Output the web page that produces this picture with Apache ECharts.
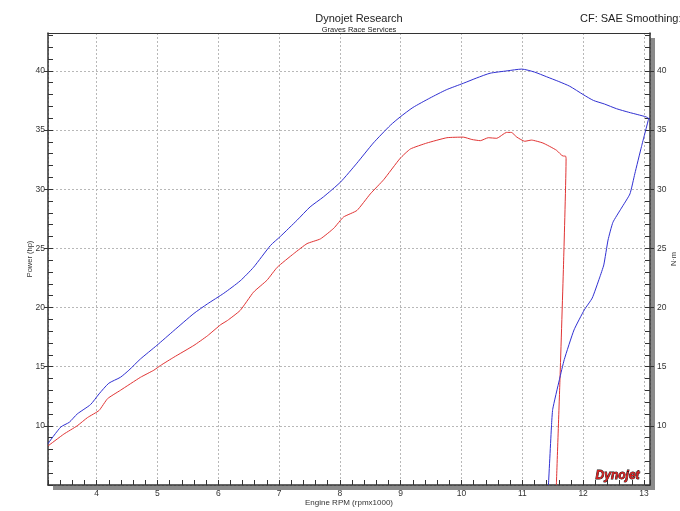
<!DOCTYPE html>
<html>
<head>
<meta charset="utf-8">
<script src="https://cdn.jsdelivr.net/npm/echarts@6/dist/echarts.min.js"></script>
<style>html,body{margin:0;padding:0;background:#fff}#c{width:680px;height:511px}</style>
</head>
<body>
<div id="c"></div>
<script>
// Blue power curve (rpm x1000, hp)
const blueRpm = [3.20,3.41,3.55,3.68,3.90,4.04,4.20,4.39,4.53,4.72,4.99,5.27,5.60,5.82,6.09,6.36,6.58,6.86,7.02,7.30,7.51,7.73,8.01,8.28,8.55,8.83,8.99,9.20,9.48,9.75,10.03,10.25,10.47,10.75,10.99,11.20,11.40,11.60,11.78,12.00,12.17,12.35,12.55,12.75,12.90,13.04,13.10];
const blueHp  = [8.5,9.9,10.3,11.0,11.8,12.7,13.6,14.1,14.7,15.65,16.8,18.05,19.5,20.3,21.2,22.25,23.4,25.25,26.0,27.4,28.5,29.35,30.6,32.2,33.9,35.4,36.1,36.9,37.7,38.4,38.95,39.4,39.8,40.0,40.15,39.9,39.5,39.1,38.7,38.0,37.5,37.2,36.8,36.5,36.3,36.1,35.9];
// Red power curve (ends with the drop-off)
const redRpm = [3.20,3.46,3.68,3.85,4.04,4.18,4.39,4.72,4.94,5.05,5.27,5.60,5.82,6.04,6.15,6.36,6.58,6.80,6.97,7.24,7.46,7.68,7.90,8.06,8.28,8.50,8.72,8.99,9.16,9.43,9.76,10.03,10.17,10.31,10.44,10.58,10.74,10.82,10.91,11.04,11.15,11.34,11.56,11.67,11.71,11.72,11.68,11.62,11.56];
const redHp  = [8.3,9.3,10.0,10.7,11.3,12.3,13.0,14.1,14.7,15.1,15.8,16.8,17.6,18.55,18.9,19.75,21.3,22.3,23.4,24.55,25.4,25.8,26.7,27.65,28.2,29.6,30.8,32.6,33.4,33.9,34.35,34.4,34.2,34.1,34.35,34.3,34.8,34.8,34.4,34.05,34.15,33.9,33.3,32.8,32.8,32.6,24.0,14.0,5.0];
// Blue rising trace at the right
const riseRpm = [11.43,11.48,11.50,11.61,11.69,11.85,12.02,12.15,12.27,12.34,12.41,12.49,12.63,12.77,12.85,12.96,13.08];
const riseHp  = [5.0,10.0,11.4,13.9,15.6,18.1,19.8,20.8,22.5,23.6,25.7,27.2,28.4,29.6,31.3,33.6,36.0];

const xMin = 3.2, xMax = 13.1, yMin = 5, yMax = 43.2;
const zip = (a, b) => a.map((v, i) => [v, b[i]]);
const FONT = 'Liberation Sans';
const axisCol = '#333';
const gridLine = {show: true, lineStyle: {color: '#b8b8b8', type: [2, 2], width: 1}};

const chart = echarts.init(document.getElementById('c'), null, {renderer: 'canvas'});
chart.setOption({
  animation: false,
  backgroundColor: '#fff',
  title: [
    {text: 'Dynojet Research', left: 354, top: 8, textAlign: 'center',
     textStyle: {fontFamily: FONT, fontSize: 11, fontWeight: 'normal', color: '#222'}},
    {text: 'Graves Race Services', left: 354, top: 21, textAlign: 'center',
     textStyle: {fontFamily: FONT, fontSize: 7.5, fontWeight: 'normal', color: '#222'}},
    {text: 'CF: SAE Smoothing: 5', left: 575, top: 8,
     textStyle: {fontFamily: FONT, fontSize: 11, fontWeight: 'normal', color: '#222'}}
  ],
  grid: {left: 48, right: 30, top: 33, bottom: 26, show: true, backgroundColor: '#fff',
         outerBoundsMode: 'none', containLabel: false,
         borderWidth: 0,
         shadowColor: '#8a8a8a', shadowOffsetX: 5, shadowOffsetY: 5, shadowBlur: 0},
  xAxis: [
    {type: 'value', min: xMin, max: xMax, interval: 0.2, position: 'bottom',
     name: 'Engine RPM (rpmx1000)', nameLocation: 'middle', nameGap: 14, nameMoveOverlap: false,
     nameTextStyle: {fontFamily: FONT, fontSize: 8, color: '#333'},
     axisLine: {show: true, lineStyle: {color: axisCol, width: 1.5}},
     axisTick: {show: true, inside: true, length: 5, lineStyle: {color: axisCol}},
     axisLabel: {fontFamily: FONT, fontSize: 8.5, color: '#333', margin: 4,
       formatter: v => Math.abs(v - Math.round(v)) < 1e-6 ? String(Math.round(v)) : ''},
     splitLine: {show: false}},
    {type: 'value', min: xMin, max: xMax, splitNumber: 10, position: 'top',
     axisLine: {show: true, lineStyle: {color: axisCol, width: 1.2}},
     axisTick: {show: false}, axisLabel: {show: false},
     splitLine: gridLine}
  ],
  yAxis: [
    {type: 'value', min: yMin, max: yMax, interval: 5, position: 'left',
     name: 'Power (hp)', nameLocation: 'middle', nameGap: 14, nameMoveOverlap: false,
     nameTextStyle: {fontFamily: FONT, fontSize: 7.5, color: '#333'},
     axisLine: {show: true, lineStyle: {color: axisCol, width: 1.5}},
     axisTick: {show: true, length: 4, lineStyle: {color: axisCol}},
     axisLabel: {fontFamily: FONT, fontSize: 8.5, color: '#333', margin: 3, showMinLabel: false, showMaxLabel: false},
     splitLine: gridLine},
    {type: 'value', min: yMin, max: yMax, interval: 5, position: 'right',
     name: 'N·m', nameLocation: 'middle', nameGap: 20, nameRotate: 90, nameMoveOverlap: false,
     nameTextStyle: {fontFamily: FONT, fontSize: 7.5, color: '#333'},
     axisLine: {show: true, lineStyle: {color: axisCol, width: 1.5}},
     axisTick: {show: true, length: 4, lineStyle: {color: axisCol}},
     axisLabel: {fontFamily: FONT, fontSize: 8.5, color: '#333', margin: 7, showMinLabel: false, showMaxLabel: false},
     splitLine: {show: false}},
    {type: 'value', min: yMin, max: yMax, interval: 1, position: 'left',
     axisLine: {show: false}, axisLabel: {show: false}, splitLine: {show: false},
     axisTick: {show: true, inside: true, length: 5, lineStyle: {color: axisCol}}},
    {type: 'value', min: yMin, max: yMax, interval: 1, position: 'right',
     axisLine: {show: false}, axisLabel: {show: false}, splitLine: {show: false},
     axisTick: {show: true, inside: true, length: 5, lineStyle: {color: axisCol}}}
  ],
  graphic: [
    {type: 'text', right: 40, bottom: 29, z: 100,
     style: {text: 'Dynojet', font: 'italic bold 12px ' + FONT, fill: '#d41f1f', stroke: '#111', lineWidth: 0.8}}
  ],
  series: [
    {type: 'line', name: 'Run A', data: zip(blueRpm, blueHp), showSymbol: false, symbol: 'none', smooth: 0.2,
     lineStyle: {color: '#3030d2', width: 1}, xAxisIndex: 0, yAxisIndex: 0, clip: true},
    {type: 'line', name: 'Run B', data: zip(redRpm, redHp), showSymbol: false, symbol: 'none', smooth: 0.15,
     lineStyle: {color: '#e03434', width: 1}, xAxisIndex: 0, yAxisIndex: 0, clip: true},
    {type: 'line', name: 'Run A rise', data: zip(riseRpm, riseHp), showSymbol: false, symbol: 'none', smooth: 0.15,
     lineStyle: {color: '#3030d2', width: 1}, xAxisIndex: 0, yAxisIndex: 0, clip: true}
  ]
});
</script>
</body>
</html>
